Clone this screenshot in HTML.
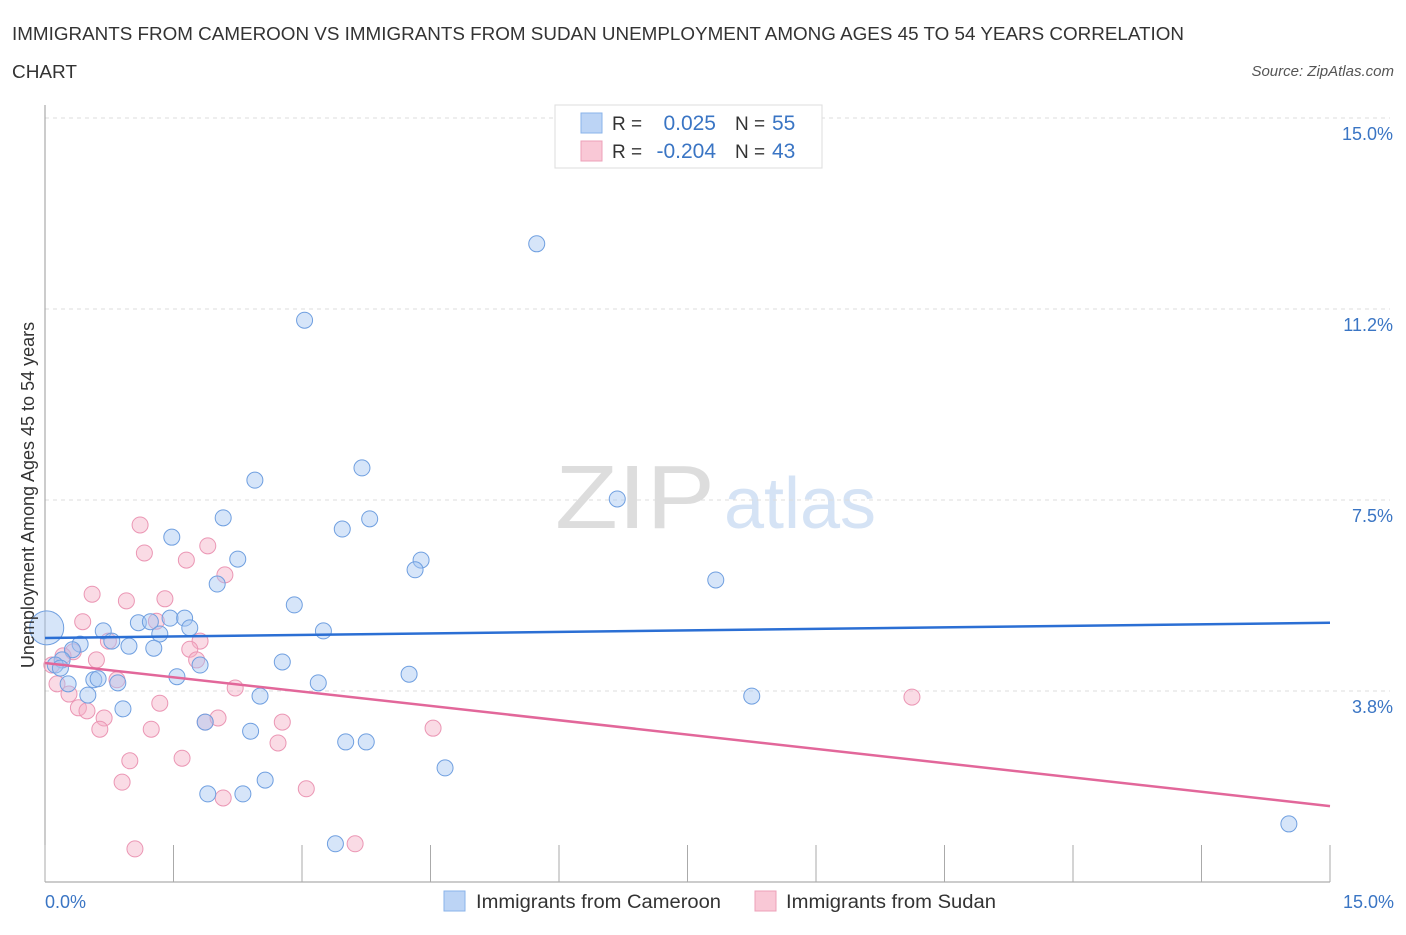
<!DOCTYPE html>
<html><head><meta charset="utf-8"><style>
body{margin:0;background:#fff;font-family:"Liberation Sans",sans-serif;}
svg text{font-family:"Liberation Sans",sans-serif;}
</style></head><body>
<svg id="chart" width="1406" height="930" xmlns="http://www.w3.org/2000/svg">
<text x="12" y="40" font-size="18" fill="#333" textLength="1172" lengthAdjust="spacingAndGlyphs">IMMIGRANTS FROM CAMEROON VS IMMIGRANTS FROM SUDAN UNEMPLOYMENT AMONG AGES 45 TO 54 YEARS CORRELATION</text>
<text x="12" y="78" font-size="18" fill="#333" textLength="65" lengthAdjust="spacingAndGlyphs">CHART</text>
<text x="1394" y="76" font-size="15" fill="#555" font-style="italic" text-anchor="end">Source: ZipAtlas.com</text>
<text x="635" y="528" font-size="90" fill="#ddd" font-family="Liberation Serif" text-anchor="middle" textLength="160" lengthAdjust="spacingAndGlyphs">ZIP</text>
<text x="800" y="528" font-size="72" fill="#d5e3f5" text-anchor="middle">atlas</text>
<g id="grid"></g>
<g id="axes"></g>
<g id="marks"></g>
<text transform="translate(34,495) rotate(-90)" font-size="18" fill="#333" text-anchor="middle">Unemployment Among Ages 45 to 54 years</text>
<text x="45" y="908" font-size="18" fill="#3a75c4">0.0%</text>
<text x="1394" y="908" font-size="18" fill="#3a75c4" text-anchor="end">15.0%</text>
<g>
<rect x="555" y="105" width="267" height="63" fill="#fff" stroke="#ddd"/>
<rect x="581" y="113" width="21" height="20" fill="#bcd4f5" stroke="#8ab3ea"/>
<rect x="581" y="141" width="21" height="20" fill="#f9c8d6" stroke="#eda0b8"/>
<text x="612" y="130" font-size="19" fill="#333">R =</text>
<text x="716" y="130" font-size="21" fill="#3a75c4" text-anchor="end">0.025</text>
<text x="735" y="130" font-size="19" fill="#333">N =</text>
<text x="772" y="130" font-size="21" fill="#3a75c4">55</text>
<text x="612" y="158" font-size="19" fill="#333">R =</text>
<text x="716" y="158" font-size="21" fill="#3a75c4" text-anchor="end">-0.204</text>
<text x="735" y="158" font-size="19" fill="#333">N =</text>
<text x="772" y="158" font-size="21" fill="#3a75c4">43</text>
</g>
<g>
<rect x="444" y="891" width="21" height="20" fill="#bcd4f5" stroke="#8ab3ea"/>
<text x="476" y="908" font-size="19" fill="#333" textLength="245" lengthAdjust="spacingAndGlyphs">Immigrants from Cameroon</text>
<rect x="755" y="891" width="21" height="20" fill="#f9c8d6" stroke="#eda0b8"/>
<text x="786" y="908" font-size="19" fill="#333" textLength="210" lengthAdjust="spacingAndGlyphs">Immigrants from Sudan</text>
</g>
</svg>
<script>
const yTicks=[3.75,7.5,11.25,15];
const yTickLabels=["3.8%","7.5%","11.2%","15.0%"];
const xTickVals=[0,1.5,3,4.5,6,7.5,9,10.5,12,13.5,15];
const blueX=[5.74,3.03,3.70,2.45,6.68,2.08,3.79,3.47,1.48,2.25,4.39,4.32,2.01,7.83,2.91,1.46,1.63,1.09,1.23,1.69,3.25,0.68,1.34,0.78,0.98,1.27,0.41,0.32,0.20,1.81,2.77,4.25,1.54,0.57,0.62,0.27,0.85,3.19,0.50,2.51,8.25,0.91,1.87,2.40,3.51,3.75,4.67,2.57,1.90,2.31,3.39,14.52,0.02,0.12,0.18];
const blueY=[12.53,11.03,8.13,7.89,7.52,7.15,7.13,6.93,6.77,6.34,6.32,6.13,5.85,5.93,5.44,5.18,5.18,5.09,5.11,4.99,4.93,4.93,4.87,4.73,4.63,4.59,4.67,4.56,4.36,4.26,4.32,4.08,4.03,3.97,3.99,3.89,3.91,3.91,3.67,3.65,3.65,3.40,3.14,2.96,2.75,2.75,2.24,2.00,1.73,1.73,0.75,1.14,4.99,4.26,4.20];
const blueR=[8,8,8,8,8,8,8,8,8,8,8,8,8,8,8,8,8,8,8,8,8,8,8,8,8,8,8,8,8,8,8,8,8,8,8,8,8,8,8,8,8,8,8,8,8,8,8,8,8,8,8,8,17,8,8];
const pinkX=[1.11,1.16,1.90,1.65,2.10,0.55,0.95,1.40,0.44,1.30,0.74,1.81,1.69,0.33,0.21,0.60,1.77,0.08,2.22,0.28,0.14,0.84,1.34,0.39,0.49,0.69,1.87,2.02,2.77,4.53,10.12,0.64,1.24,2.72,1.60,0.99,0.90,3.05,2.08,1.05,3.62];
const pinkY=[7.01,6.46,6.60,6.32,6.03,5.65,5.52,5.56,5.11,5.12,4.73,4.73,4.57,4.52,4.44,4.36,4.36,4.26,3.81,3.69,3.89,3.97,3.51,3.42,3.36,3.22,3.14,3.22,3.14,3.02,3.63,3.00,3.00,2.73,2.43,2.38,1.96,1.83,1.65,0.65,0.75];
const blueTrend=[4.79,5.09];
const pinkTrend=[4.30,1.49];
const NS="http://www.w3.org/2000/svg";
const X0=45,X1=1330,Y0=882,Y1=118,MAX=15;
const sx=v=>X0+v/MAX*(X1-X0);
const sy=v=>Y0-v/MAX*(Y0-Y1);
function mk(tag,parent,attrs){const e=document.createElementNS(NS,tag);for(const k in attrs)e.setAttribute(k,attrs[k]);document.getElementById(parent).appendChild(e);return e;}
yTicks.forEach((v,i)=>{
 const l=mk('line','grid',{x1:X0,x2:1390,y1:sy(v),y2:sy(v),stroke:'#ddd','stroke-dasharray':'4,4'});
 
 
 const t=mk('text','grid',{x:1393,y:sy(v)+22,'font-size':18,fill:'#3a75c4','text-anchor':'end'});
 t.textContent=yTickLabels[i];
 
 
});
const ya=mk('line','axes',{x1:X0,x2:X0,y1:105,y2:Y0,stroke:'#999'});


const xa=mk('line','axes',{x1:X0,x2:X1,y1:Y0,y2:Y0,stroke:'#999'});


xTickVals.forEach(v=>{
 const t=mk('line','axes',{x1:sx(v),x2:sx(v),y1:845,y2:Y0,stroke:'#aaa'});
 
 
});
pinkX.forEach((v,i)=>{
 const c=mk('circle','marks',{cx:sx(v),cy:sy(pinkY[i]),r:8,fill:'rgba(245,175,198,0.45)',stroke:'#eb96b4','stroke-width':1});
 
 
});
blueX.forEach((v,i)=>{
 const c=mk('circle','marks',{cx:sx(v),cy:sy(blueY[i]),r:blueR[i],fill:'rgba(165,198,242,0.45)',stroke:'#6f9fe0','stroke-width':1});
 
 
});
const bt=mk('line','marks',{x1:sx(0),x2:sx(15),y1:sy(blueTrend[0]),y2:sy(blueTrend[1]),stroke:'#2b6fd4','stroke-width':2.5});


const pt=mk('line','marks',{x1:sx(0),x2:sx(15),y1:sy(pinkTrend[0]),y2:sy(pinkTrend[1]),stroke:'#e2679a','stroke-width':2.5});


</script>
</body></html>
